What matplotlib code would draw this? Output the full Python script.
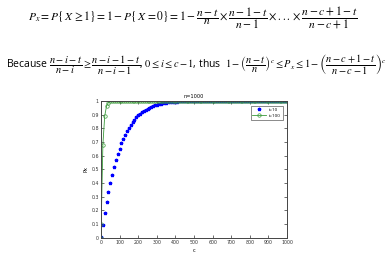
import matplotlib
matplotlib.use("Agg")
import matplotlib.pyplot as plt

plt.rcParams['mathtext.fontset'] = 'stix'
plt.rcParams['font.family'] = ['Open Sans', 'DejaVu Sans']

# c values (x axis)
c_values = [0, 1] + list(range(10, 1001, 10))

# Px for t=10
px_t10 = [0.0, 0.01,
          0.096, 0.184, 0.264, 0.336, 0.402, 0.462, 0.517, 0.567, 0.612, 0.652,
          0.689, 0.722, 0.753, 0.780, 0.804, 0.826, 0.846, 0.864, 0.879, 0.894,
          0.906, 0.917, 0.928, 0.937, 0.944, 0.951, 0.957, 0.963, 0.967, 0.972,
          0.975, 0.979, 0.982, 0.984, 0.987, 0.989, 0.990, 0.992, 0.993, 0.994,
          0.995, 0.996, 0.996, 0.997, 0.997, 0.998, 0.998, 0.999, 0.999, 0.999] + [1.0] * 50

# Px for t=100
px_t100 = [0.0, 0.1, 0.68, 0.89, 0.965, 0.988, 0.996, 0.999] + [1.0] * 94

xticks = list(range(0, 1001, 100))
yticks = [0, 0.1, 0.2, 0.3, 0.4, 0.5, 0.6, 0.7, 0.8, 0.9, 1]
ytick_labels = ["0", "0.1", "0.2", "0.3", "0.4", "0.5", "0.6", "0.7", "0.8", "0.9", "1"]

fig = plt.figure(figsize=(3.9, 2.62), dpi=100)

# equations above the plot
line1 = (r"$P_x = P\{\,X\,\geq 1\} = 1 - P\{\,X\,=0\} = 1 - \dfrac{n-t}{n}"
         r"\times \dfrac{n-1-t}{n-1} \times ... \times \dfrac{n-c+1-t}{n-c+1}$")
line2 = (r"Because $\dfrac{n-i-t}{n-i} \geq \dfrac{n-i-1-t}{n-i-1}$, $0 \leq i \leq c-1$, thus  "
         r"$1-\left(\dfrac{n-t}{n}\right)^c \leq P_x \leq 1-\left(\dfrac{n-c+1-t}{n-c-1}\right)^c$")
fig.text(0.494, 0.931, line1, ha='center', va='center', fontsize=8.3)
fig.text(0.503, 0.752, line2, ha='center', va='center', fontsize=7.5)

ax = fig.add_axes([0.259, 0.092, 0.477, 0.523])
ax.plot(c_values, px_t10, linestyle='none', marker='*', color='blue',
        markersize=2.4, label='t=10')
ax.plot(c_values, px_t100, color='#3a9a3a', linewidth=0.6, marker='o',
        markersize=2.5, markerfacecolor='none', markeredgewidth=0.5, label='t=100')

ax.set_xlim(0, 1000)
ax.set_ylim(0, 1)
ax.set_xticks(xticks)
ax.set_yticks(yticks)
ax.set_yticklabels(ytick_labels)
ax.tick_params(direction='in', length=2, width=0.5, labelsize=3.4, pad=1.5,
               top=True, right=True, colors='#333333')
for s in ax.spines.values():
    s.set_linewidth(0.7)
    s.set_color('#444444')

ax.set_title("n=1000", fontsize=3.6, pad=2, family='DejaVu Sans')
ax.set_xlabel("c", fontsize=3.6, labelpad=2, family='DejaVu Sans')
ax.set_ylabel("Px", fontsize=3.6, labelpad=2, family='DejaVu Sans')
for lbl in ax.get_xticklabels() + ax.get_yticklabels():
    lbl.set_family('DejaVu Sans')

leg = ax.legend(loc='upper right', fontsize=3.2, frameon=True, fancybox=False,
                borderpad=0.4, handlelength=3, bbox_to_anchor=(0.99, 0.98))
leg.get_frame().set_edgecolor('#333333')
leg.get_frame().set_linewidth(0.5)

fig.savefig("out.png", dpi=100)
